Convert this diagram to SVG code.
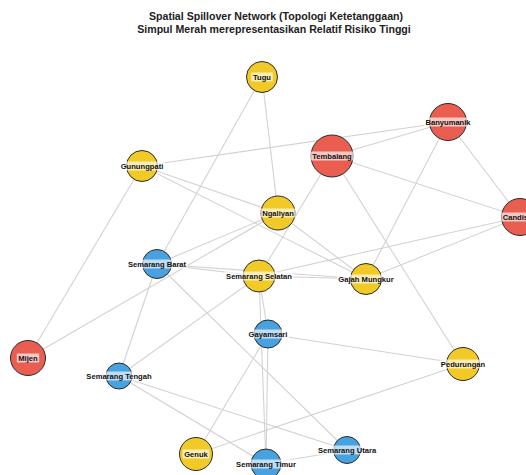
<svg xmlns="http://www.w3.org/2000/svg" width="526" height="475" viewBox="0 0 526 475">
<style>
.t{font-family:"Liberation Sans",Arial,sans-serif;font-weight:bold;fill:#222;text-anchor:middle}
.title{font-size:10.6px}
.lbl{font-size:7.6px;fill:#111}
.bg{fill:#fff;fill-opacity:0.65}
.e line{stroke:#d2d2d2;stroke-width:1.1}
.r{fill:#e95e50;stroke:#2a2a2a;stroke-width:1}
.y{fill:#f2ca27;stroke:#2a2a2a;stroke-width:1}
.b{fill:#48a2df;stroke:#2a2a2a;stroke-width:1}
</style>
<rect width="526" height="475" fill="#fff"/>
<text class="t title" x="276" y="20">Spatial Spillover Network (Topologi Ketetanggaan)</text>
<text class="t title" x="274" y="33">Simpul Merah merepresentasikan Relatif Risiko Tinggi</text>
<g id="edges" class="e">
<line x1="262" y1="77" x2="278" y2="213"/>
<line x1="262" y1="77" x2="157" y2="264"/>
<line x1="142" y1="166" x2="448" y2="122"/>
<line x1="142" y1="166" x2="278" y2="213"/>
<line x1="142" y1="166" x2="366" y2="279"/>
<line x1="142" y1="166" x2="28" y2="358"/>
<line x1="332" y1="156" x2="448" y2="122"/>
<line x1="332" y1="156" x2="520" y2="217"/>
<line x1="332" y1="156" x2="259" y2="276"/>
<line x1="332" y1="156" x2="463" y2="364"/>
<line x1="448" y1="122" x2="520" y2="217"/>
<line x1="448" y1="122" x2="366" y2="279"/>
<line x1="520" y1="217" x2="366" y2="279"/>
<line x1="520" y1="217" x2="259" y2="276"/>
<line x1="278" y1="213" x2="157" y2="264"/>
<line x1="278" y1="213" x2="366" y2="279"/>
<line x1="278" y1="213" x2="28" y2="358"/>
<line x1="157" y1="264" x2="259" y2="276"/>
<line x1="157" y1="264" x2="366" y2="279"/>
<line x1="157" y1="264" x2="119" y2="376"/>
<line x1="157" y1="264" x2="347" y2="450"/>
<line x1="259" y1="276" x2="366" y2="279"/>
<line x1="259" y1="276" x2="119" y2="376"/>
<line x1="259" y1="276" x2="268" y2="334"/>
<line x1="259" y1="276" x2="266" y2="464"/>
<line x1="268" y1="334" x2="463" y2="364"/>
<line x1="268" y1="334" x2="196" y2="454"/>
<line x1="268" y1="334" x2="266" y2="464"/>
<line x1="119" y1="376" x2="266" y2="464"/>
<line x1="119" y1="376" x2="347" y2="450"/>
<line x1="196" y1="454" x2="463" y2="364"/>
<line x1="266" y1="464" x2="347" y2="450"/>
</g>
<g id="tugu"><circle class="y" cx="262" cy="77" r="15.5"/><rect class="bg" x="251.2" y="72.5" width="21.6" height="9"/><text class="t lbl" x="262" y="79.7">Tugu</text></g>
<g id="gunungpati"><circle class="y" cx="142" cy="166" r="15.5"/><rect class="bg" x="119.2" y="161.5" width="45.6" height="9"/><text class="t lbl" x="142" y="168.7">Gunungpati</text></g>
<g id="tembalang"><circle class="r" cx="332" cy="156" r="21"/><rect class="bg" x="310.5" y="151.5" width="43" height="9"/><text class="t lbl" x="332" y="158.7">Tembalang</text></g>
<g id="banyumanik"><circle class="r" cx="448" cy="122" r="18.5"/><rect class="bg" x="423.9" y="117.5" width="48.2" height="9"/><text class="t lbl" x="448" y="124.7">Banyumanik</text></g>
<g id="candisari"><circle class="r" cx="520" cy="217" r="18.5"/><rect class="bg" x="501.2" y="212.5" width="37.6" height="9"/><text class="t lbl" x="520" y="219.7">Candisari</text></g>
<g id="ngaliyan"><circle class="y" cx="278" cy="213" r="17"/><rect class="bg" x="260.6" y="208.5" width="34.8" height="9"/><text class="t lbl" x="278" y="215.7">Ngaliyan</text></g>
<g id="semarang-barat"><circle class="b" cx="157" cy="264" r="14.5"/><rect class="bg" x="126.4" y="259.5" width="61.2" height="9"/><text class="t lbl" x="157" y="266.7">Semarang Barat</text></g>
<g id="semarang-selatan"><circle class="y" cx="259" cy="276" r="16"/><rect class="bg" x="224.6" y="271.5" width="68.8" height="9"/><text class="t lbl" x="259" y="278.7">Semarang Selatan</text></g>
<g id="gajah-mungkur"><circle class="y" cx="366" cy="279" r="15.5"/><rect class="bg" x="336.9" y="274.5" width="58.2" height="9"/><text class="t lbl" x="366" y="281.7">Gajah Mungkur</text></g>
<g id="gayamsari"><circle class="b" cx="268" cy="334" r="14"/><rect class="bg" x="247" y="329.5" width="42" height="9"/><text class="t lbl" x="268" y="336.7">Gayamsari</text></g>
<g id="mijen"><circle class="r" cx="28" cy="358" r="17.5"/><rect class="bg" x="16.8" y="353.5" width="22.4" height="9"/><text class="t lbl" x="28" y="360.7">Mijen</text></g>
<g id="semarang-tengah"><circle class="b" cx="119" cy="376" r="13"/><rect class="bg" x="84.6" y="371.5" width="68.8" height="9"/><text class="t lbl" x="119" y="378.7">Semarang Tengah</text></g>
<g id="pedurungan"><circle class="y" cx="463" cy="364" r="16.5"/><rect class="bg" x="439.4" y="359.5" width="47.2" height="9"/><text class="t lbl" x="463" y="366.7">Pedurungan</text></g>
<g id="genuk"><circle class="y" cx="196" cy="454" r="16.5"/><rect class="bg" x="182.7" y="449.5" width="26.6" height="9"/><text class="t lbl" x="196" y="456.7">Genuk</text></g>
<g id="semarang-timur"><circle class="b" cx="266" cy="464" r="15"/><rect class="bg" x="234.5" y="459.5" width="63" height="9"/><text class="t lbl" x="266" y="466.7">Semarang Timur</text></g>
<g id="semarang-utara"><circle class="b" cx="347" cy="450" r="13.5"/><rect class="bg" x="316.4" y="445.5" width="61.2" height="9"/><text class="t lbl" x="347" y="452.7">Semarang Utara</text></g>
</svg>
